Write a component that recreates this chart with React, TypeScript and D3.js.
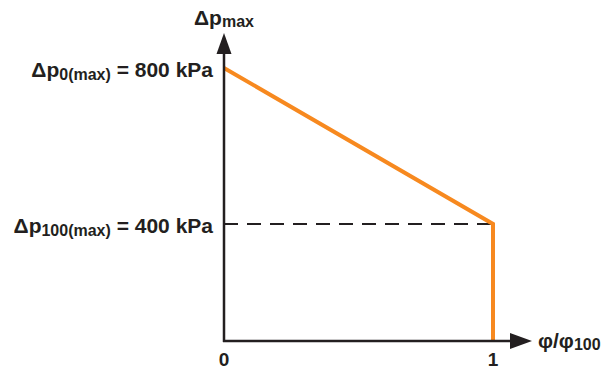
import React, { useEffect, useRef } from 'react';
import * as d3 from 'd3';

// schematic: relative flow vs. max pressure drop
const phiRatio = [0, 1];
const dpMax = [800, 400];
const xTicks = ['0', '1'];
const yLabels = [
  { main: 'Δp', sub: '0(max)', rest: ' = 800 kPa', value: 800 },
  { main: 'Δp', sub: '100(max)', rest: ' = 400 kPa', value: 400 },
];

export default function App() {
  const svgRef = useRef<SVGSVGElement>(null);

  const width = 603;
  const height = 372;
  const orange = '#F7891F';
  const ink = '#231F20';
  const font = '"Liberation Sans", Arial, Helvetica, sans-serif';

  useEffect(() => {
    const svg = d3.select(svgRef.current);
    svg.selectAll('*').remove();

    // x: 0..1 over the plotting width; y axis origin sits below 400 (not to scale)
    const xScale = d3.scaleLinear().domain([0, 1]).range([224, 493]);
    const yScale = d3.scaleLinear().domain([100, 800]).range([341, 68]);

    const x0 = xScale(0);
    const y0 = yScale(100);

    const g = svg.append('g');

    // dashed reference at the 400 kPa level
    g.append('line')
      .attr('x1', x0)
      .attr('x2', xScale(1))
      .attr('y1', yScale(dpMax[1]))
      .attr('y2', yScale(dpMax[1]))
      .attr('stroke', ink)
      .attr('stroke-width', 2)
      .attr('stroke-dasharray', '14 9');

    // orange curve: sloping part then drop to the axis at phi/phi100 = 1
    const pts: [number, number][] = phiRatio.map((d, i) => [xScale(d), yScale(dpMax[i])]);
    pts.push([xScale(phiRatio[1]), y0]);
    g.append('path')
      .attr('d', d3.line()(pts))
      .attr('fill', 'none')
      .attr('stroke', orange)
      .attr('stroke-width', 4)
      .attr('stroke-linejoin', 'miter');

    // axes with arrowheads
    g.append('line')
      .attr('x1', x0).attr('y1', y0 + 1)
      .attr('x2', x0).attr('y2', 52)
      .attr('stroke', ink).attr('stroke-width', 2.5);
    g.append('path')
      .attr('d', `M${x0},33 L${x0 + 7.5},54 L${x0 - 7.5},54 Z`)
      .attr('fill', ink);

    g.append('line')
      .attr('x1', x0 - 1).attr('y1', y0)
      .attr('x2', 512).attr('y2', y0)
      .attr('stroke', ink).attr('stroke-width', 2.5);
    g.append('path')
      .attr('d', `M532,${y0} L510,${y0 - 8} L510,${y0 + 8} Z`)
      .attr('fill', ink);

    // tick labels
    g.selectAll('.xt')
      .data(xTicks)
      .enter()
      .append('text')
      .attr('x', (d) => xScale(+d))
      .attr('y', 366)
      .attr('text-anchor', 'middle')
      .attr('font-family', font)
      .attr('font-weight', 'bold')
      .attr('font-size', 19)
      .attr('fill', ink)
      .text((d) => d);

    // y labels
    yLabels.forEach((l) => {
      const t = g.append('text')
        .attr('x', 213)
        .attr('y', yScale(l.value) + 9)
        .attr('text-anchor', 'end')
        .attr('font-family', font)
        .attr('font-weight', 'bold')
        .attr('font-size', 21)
        .attr('fill', ink);
      t.append('tspan').text(l.main);
      t.append('tspan').attr('font-size', 16).attr('dy', 3).text(l.sub);
      t.append('tspan').attr('dy', -3).text(l.rest);
    });

    // axis titles
    const ty = g.append('text')
      .attr('x', 194)
      .attr('y', 25)
      .attr('font-family', font)
      .attr('font-weight', 'bold')
      .attr('font-size', 21)
      .attr('fill', ink);
    ty.append('tspan').text('Δp');
    ty.append('tspan').attr('font-size', 16).attr('dy', 2).text('max');

    const tx = g.append('text')
      .attr('x', 538)
      .attr('y', 348)
      .attr('font-family', font)
      .attr('font-weight', 'bold')
      .attr('font-size', 21)
      .attr('fill', ink);
    tx.append('tspan').text('φ/φ');
    tx.append('tspan').attr('font-size', 16).attr('dy', 2).text('100');
  });

  return (
    <svg
      ref={svgRef}
      width={width}
      height={height}
      style={{ position: 'absolute', left: 0, top: 0, background: '#fff' }}
    ></svg>
  );
}
